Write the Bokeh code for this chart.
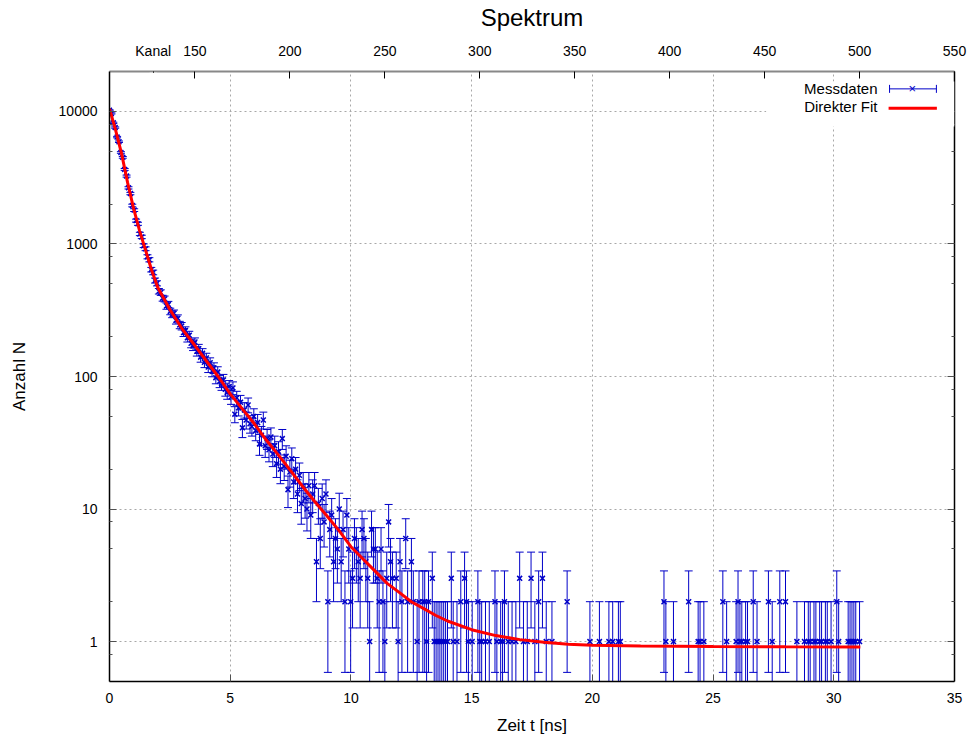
import numpy as np
from bokeh.plotting import figure
from bokeh.models import (Range1d, LinearAxis, LogAxis, FixedTicker, Label, Arrow,
                          TeeHead, BoxAnnotation, ColumnDataSource, BasicTickFormatter)
from bokeh.embed import file_html
from bokeh.resources import INLINE

# ---------------- data ----------------
KANAL_START = 105          # channel at t = 0
KANAL_END = 550            # channel at t = 35 ns
T_MAX = 35.0

# counts of consecutive channels 105 ... 245
dense_counts = [
    10200, 9650, 8200, 7550, 6400, 5900, 4900, 4500, 3650, 3250,
    2650, 2400, 1950, 1800, 1500, 1420, 1190, 1130, 970, 920,
    800, 760, 640, 610, 530, 505, 440, 430, 390, 385,
    340, 350, 310, 295, 300, 265, 275, 245, 240, 215,
    222, 196, 205, 178, 170, 182, 155, 162, 140, 150,
    128, 138, 118, 127, 110, 116, 98, 108, 92, 88,
    94, 80, 76, 84, 70, 82, 52, 69, 58, 64,
    41, 56, 47, 61, 44, 42, 50, 39, 45, 31,
    36, 47, 30, 34, 28, 35, 26, 30, 22, 27,
    20, 34, 21, 25, 14, 19, 24, 16, 20, 13,
    18, 11, 15, 12, 10, 15, 9, 13, 15, 4,
    11, 6, 12, 8, 13, 2, 7, 9, 4, 6,
    5, 10, 4, 7, 2, 9, 5, 2, 3, 6,
    5, 4, 3, 7, 6, 4, 3, 1, 7, 5,
    5,
]

# non-empty channels of the tail
tail_kanal = [
    246, 247, 248, 249, 250, 251, 252, 253, 254, 256, 257, 258, 259, 261, 262, 264,
    265, 267, 268, 270, 271, 272, 273, 275, 276, 277, 278, 279, 280, 281, 282, 283,
    285, 286, 288, 290, 292, 293, 294, 296, 299, 300, 301, 303, 305, 308, 309, 311,
    312, 313, 315, 317, 319, 321, 323, 325, 327, 329, 331, 333, 335, 338, 346, 358,
    363, 368, 370, 373, 374, 397, 398, 402, 410, 415, 416, 418, 428, 430, 435, 436,
    437, 438, 440, 441, 444, 446, 452, 454, 458, 461, 467, 471, 473, 474, 476, 477,
    479, 480, 482, 483, 485, 488, 489, 494, 495, 496, 497, 498, 500,
]
tail_counts = [
    3, 2, 5, 2, 1, 3, 8, 4, 3, 3, 1, 4, 2, 6, 2, 4,
    2, 1, 2, 2, 2, 1, 2, 3, 1, 1, 1, 1, 1, 1, 1, 1,
    3, 1, 1, 2, 3, 2, 1, 1, 2, 1, 1, 1, 1, 2, 1, 1,
    1, 2, 1, 1, 1, 3, 1, 1, 3, 1, 2, 3, 1, 1, 2, 1,
    1, 1, 1, 1, 1, 2, 1, 1, 2, 1, 1, 1, 2, 1, 1, 2,
    1, 1, 1, 1, 2, 1, 2, 1, 2, 2, 1, 1, 1, 1, 1, 1,
    1, 1, 1, 1, 1, 2, 1, 1, 1, 1, 1, 1, 1,
]

# direct fit curve
fit_t = [0, 0.25, 0.5, 0.75, 1.0, 1.25, 1.5, 1.75, 2.0, 2.5, 3.0, 3.5, 4.0, 4.5, 5.0,
         5.5, 6.0, 6.5, 7.0, 7.5, 8.0, 8.5, 9.0, 9.5, 10.0, 10.5, 11.0, 11.5, 12.0,
         12.5, 13.0, 13.5, 14.0, 15.0, 16.0, 17.0, 18.0, 19.0, 20.0, 22.0, 25.0, 28.0, 31.1]
fit_n = [10500, 7250, 4800, 2900, 1850, 1250, 890, 630, 470, 320, 230, 175, 132, 100, 74,
         57, 44, 33, 25.5, 19.5, 14.8, 11.4, 8.9, 6.9, 5.2, 4.2, 3.4, 2.75, 2.35,
         2.0, 1.78, 1.58, 1.43, 1.23, 1.11, 1.035, 0.99, 0.955, 0.94, 0.925, 0.918, 0.914, 0.912]

x_ticks = [0, 5, 10, 15, 20, 25, 30, 35]
kanal_ticks = [150, 200, 250, 300, 350, 400, 450, 500, 550]
KANAL_CAPTION_AT = 128     # where the word "Kanal" sits on the top axis
y_ticks = [1, 10, 100, 1000, 10000]
y_minor = [0.8, 2, 5, 8, 20, 50, 80, 200, 500, 800, 2000, 5000, 8000]

# ---------------- derived ----------------
kanal = list(range(KANAL_START, KANAL_START + len(dense_counts))) + tail_kanal
counts = np.array(dense_counts + tail_counts, dtype=float)
ns_per_kanal = T_MAX / (KANAL_END - KANAL_START)
zeit = (np.array(kanal) - KANAL_START) * ns_per_kanal
err = np.sqrt(counts)
upper = counts + err
lower = np.where(counts - err > 0, counts - err, 1e-3)

src = ColumnDataSource(dict(t=zeit, n=counts, up=upper, lo=lower))

FONT = "Liberation Sans"
BLUE = "#0000c8"

p = figure(frame_width=845, frame_height=610,
           x_range=Range1d(0, T_MAX), y_range=Range1d(0.5, 20000),
           y_axis_type="log", output_backend="svg", toolbar_location=None,
           min_border_left=109, min_border_right=15, min_border_top=70,
           min_border_bottom=58)
try:
    p.title = None
except Exception:
    p.title.standoff = 0
p.outline_line_color = None
p.background_fill_color = "white"
p.border_fill_color = "white"

p.extra_x_ranges = {"kanal": Range1d(KANAL_START, KANAL_END)}

yt = FixedTicker(ticks=y_ticks, minor_ticks=y_minor)

xa = p.xaxis[0]
xa.ticker = FixedTicker(ticks=x_ticks)
xa.axis_label = "Zeit t [ns]"
ya = p.yaxis[0]
ya.ticker = yt
ya.formatter = BasicTickFormatter(use_scientific=False)
ya.axis_label = "Anzahl N"

ra = LogAxis(ticker=FixedTicker(ticks=y_ticks, minor_ticks=y_minor),
             major_label_overrides={v: "" for v in y_ticks})
p.add_layout(ra, "right")
# top channel axis; its caption line carries the chart title "Spektrum"
ta = LinearAxis(x_range_name="kanal",
                ticker=FixedTicker(ticks=[KANAL_CAPTION_AT] + kanal_ticks),
                major_label_overrides={KANAL_CAPTION_AT: "Kanal"},
                axis_label="Spektrum")
p.add_layout(ta, "above")

for ax in (xa, ya, ra, ta):
    ax.major_tick_out = 0
    ax.major_tick_in = 7
    ax.minor_tick_out = 0
    ax.minor_tick_in = 3
    ax.major_tick_line_color = "#505050"
    ax.minor_tick_line_color = "#505050"
    ax.axis_line_color = "black"
    ax.axis_line_width = 1.5
    ax.major_label_text_font = FONT
    ax.major_label_text_font_size = "14px"
    ax.major_label_text_color = "black"
    ax.axis_label_text_font = FONT
    ax.axis_label_text_font_size = "17px"
    ax.axis_label_text_font_style = "normal"
    ax.axis_label_text_color = "black"
ta.axis_line_color = "#888888"
ta.axis_line_width = 2
ta.major_tick_line_color = "black"
ta.axis_label_text_font_size = "24px"
ya.major_label_standoff = 12
ya.axis_label_standoff = 27
xa.major_label_standoff = 11
xa.axis_label_standoff = 10
ta.major_label_standoff = 13
ta.axis_label_standoff = 9
ra.major_label_standoff = 0

p.xgrid.ticker = FixedTicker(ticks=x_ticks[1:-1])
p.ygrid.ticker = FixedTicker(ticks=y_ticks)
for g in (p.xgrid, p.ygrid):
    g.grid_line_color = "#a8a8a8"
    g.grid_line_dash = "2 3"
    g.grid_line_width = 1

# error bars, markers
p.segment(x0="t", y0="lo", x1="t", y1="up", source=src, line_color=BLUE, line_width=1)
p.scatter("t", "up", marker="dash", size=8, line_color=BLUE, line_width=1, source=src)
p.scatter("t", "lo", marker="dash", size=8, line_color=BLUE, line_width=1, source=src)
p.scatter("t", "n", marker="x", size=7, line_color=BLUE, line_width=1.5, source=src)

# fit
p.line(fit_t, fit_n, line_color="#ff0000", line_width=3)

# white patch hiding the tick mark under the "Kanal" caption
cap_t = (KANAL_CAPTION_AT - KANAL_START) * ns_per_kanal
p.add_layout(BoxAnnotation(left=cap_t - 0.15, right=cap_t + 0.15, bottom=17000, top=19600,
                           fill_color="white", fill_alpha=1, line_color=None))

# key (gnuplot style: text left, sample right)
p.add_layout(BoxAnnotation(left=27.2, right=T_MAX, bottom=7700, top=16800,
                           fill_color="white", fill_alpha=1, line_color=None))
p.add_layout(Label(x=31.81, y=14960, text="Messdaten", text_align="right",
                   text_baseline="middle", text_font=FONT, text_font_size="15px",
                   text_color="black"))
p.add_layout(Label(x=31.81, y=10890, text="Direkter Fit", text_align="right",
                   text_baseline="middle", text_font=FONT, text_font_size="15px",
                   text_color="black"))
p.add_layout(Arrow(x_start=32.31, y_start=14790, x_end=34.25, y_end=14790,
                   start=TeeHead(size=8, line_color=BLUE, line_width=1),
                   end=TeeHead(size=8, line_color=BLUE, line_width=1),
                   line_color=BLUE, line_width=1))
p.add_layout(Label(x=33.25, y=14790, text="×", text_align="center",
                   text_baseline="middle", text_font=FONT, text_font_size="13px",
                   text_color=BLUE))
p.add_layout(Arrow(x_start=32.27, y_start=10570, x_end=34.27, y_end=10570,
                   start=None, end=None, line_color="#ff0000", line_width=3))

open("out.html", "w").write(file_html(p, INLINE))
